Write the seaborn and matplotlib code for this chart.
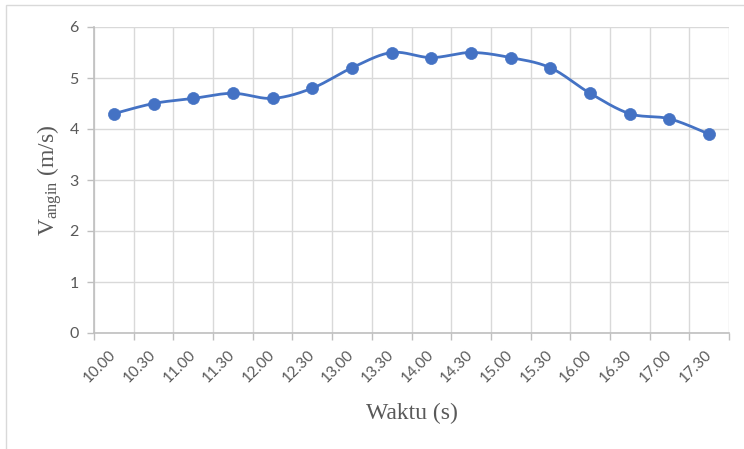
import numpy as np
import pandas as pd
import matplotlib
matplotlib.use("Agg")
import matplotlib.pyplot as plt
from matplotlib.patches import Rectangle
from matplotlib.ticker import FixedLocator, MultipleLocator
from matplotlib.transforms import ScaledTranslation
import seaborn as sns

# Wind speed readings over the day
times = ["10.00", "10.30", "11.00", "11.30", "12.00", "12.30", "13.00", "13.30",
         "14.00", "14.30", "15.00", "15.30", "16.00", "16.30", "17.00", "17.30"]
speeds = [4.3, 4.5, 4.6, 4.7, 4.6, 4.8, 5.2, 5.5,
          5.4, 5.5, 5.4, 5.2, 4.7, 4.3, 4.2, 3.9]

sns.set_theme(style="white")
plt.rcParams["font.family"] = ["Lato", "DejaVu Sans"]
plt.rcParams["mathtext.fontset"] = "custom"
plt.rcParams["mathtext.rm"] = "Liberation Serif"
plt.rcParams["mathtext.it"] = "Liberation Serif:italic"

LINE = "#4472C4"
GRID = "#d9d9d9"
AXIS = "#bfbfbf"
TEXT = "#595959"


def smooth_curve(y, steps=30):
    """Cubic Bezier smoothing through every point (spreadsheet-style)."""
    pts = np.column_stack([np.arange(len(y), dtype=float), np.asarray(y, float)])
    n = len(pts)
    xs, ys = [], []
    t = np.linspace(0, 1, steps)
    for i in range(n - 1):
        p0 = pts[i]
        p3 = pts[i + 1]
        prev = pts[i - 1] if i > 0 else pts[i]
        nxt = pts[i + 2] if i + 2 < n else pts[i + 1]
        c1 = p0 + (p3 - prev) / 6.0
        c2 = p3 - (nxt - p0) / 6.0
        seg = ((1 - t) ** 3)[:, None] * p0 + (3 * (1 - t) ** 2 * t)[:, None] * c1 \
            + (3 * (1 - t) * t ** 2)[:, None] * c2 + (t ** 3)[:, None] * p3
        xs.append(seg[:, 0] if i == 0 else seg[1:, 0])
        ys.append(seg[:, 1] if i == 0 else seg[1:, 1])
    return np.concatenate(xs), np.concatenate(ys)


df = pd.DataFrame({"pos": np.arange(len(times)), "speed": speeds, "time": times})
cx, cy = smooth_curve(speeds)
curve = pd.DataFrame({"pos": cx, "speed": cy})

fig = plt.figure(figsize=(7.44, 4.49), dpi=100)
W, H = 744, 449
ax = fig.add_axes([94 / W, 1 - 333 / H, (729 - 94) / W, (333 - 27) / H])

# outer chart frame
fig.patches.append(Rectangle((6.5 / W, -0.1), 1.2, 1 - 5.5 / H + 0.1,
                             transform=fig.transFigure, fill=False,
                             edgecolor=GRID, linewidth=1.0, zorder=0))

sns.lineplot(data=curve, x="pos", y="speed", ax=ax, color=LINE,
             linewidth=2.0, sort=False, estimator=None, zorder=3)
sns.scatterplot(data=df, x="pos", y="speed", ax=ax, color=LINE, s=75,
                edgecolor=LINE, linewidth=0.5, zorder=4)

ax.set_xlim(-0.5, len(times) - 0.5)
ax.set_ylim(0, 6)

# category labels centred, gridlines on the category boundaries
ax.xaxis.set_major_locator(FixedLocator(np.arange(len(times))))
ax.xaxis.set_minor_locator(FixedLocator(np.arange(len(times) + 1) - 0.5))
ax.set_xticklabels(times, rotation=45, ha="right", va="center",
                   rotation_mode="anchor", fontsize=11, color=TEXT)
shift = ScaledTranslation(6 / 100, 0, fig.dpi_scale_trans)
for lbl in ax.get_xticklabels():
    lbl.set_transform(lbl.get_transform() + shift)
ax.tick_params(axis="x", which="major", length=0, pad=14)
ax.tick_params(axis="x", which="minor", length=5, width=1, color=AXIS,
               direction="out", bottom=True)

ax.yaxis.set_major_locator(MultipleLocator(1))
ax.tick_params(axis="y", which="major", length=5, width=1, color=AXIS,
               direction="out", left=True, labelsize=11.5, labelcolor=TEXT, pad=6)

ax.grid(False)
ax.grid(True, axis="y", which="major", color=GRID, linewidth=1)
ax.grid(True, axis="x", which="minor", color=GRID, linewidth=1)
ax.set_axisbelow(True)

for side in ("top", "right"):
    ax.spines[side].set_visible(False)
for side in ("left", "bottom"):
    ax.spines[side].set_color(AXIS)
    ax.spines[side].set_linewidth(1.2)

ax.set_xlabel("Waktu (s)", fontsize=17, color=TEXT,
              family="Liberation Serif", labelpad=13)
ax.set_ylabel(r"V$_{\mathrm{angin}}$ (m/s)", fontsize=17, color=TEXT,
              family="Liberation Serif", labelpad=4)

fig.savefig("out.png", dpi=100, facecolor="white")
